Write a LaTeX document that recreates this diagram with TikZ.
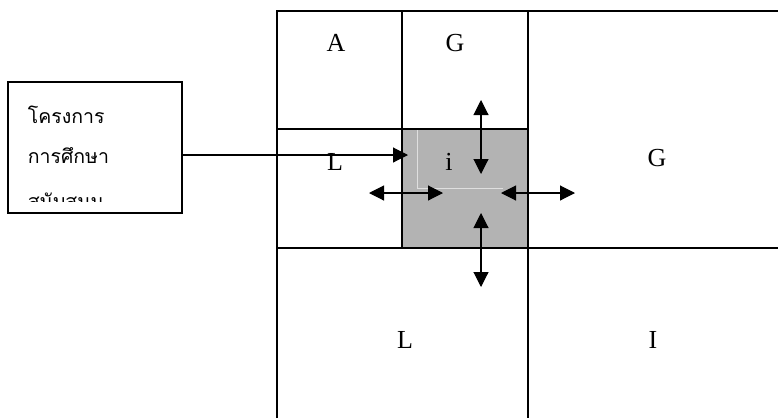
\documentclass[tikz,border=0pt]{standalone}
\usepackage{fontspec}
\setmainfont{Liberation Serif}
\newfontfamily\thaifont[Script=Thai]{Loma}
\usetikzlibrary{arrows.meta}
\definecolor{cellgray}{HTML}{B3B3B3}

\begin{document}
\begin{tikzpicture}[x=1pt,y=-1pt,line width=1.6pt,
  lbl/.style={font=\fontsize{26}{26}\selectfont},
  thl/.style={anchor=base west,inner sep=0pt,font=\thaifont\fontsize{19.5}{20}\selectfont},
  dbl/.style={line width=1.1pt,{Triangle[length=15pt,width=15pt]}-{Triangle[length=15pt,width=15pt]}},
  sgl/.style={line width=1.1pt,-{Triangle[length=15pt,width=15pt]}}]
\useasboundingbox (0,0) rectangle (778,418);
% shaded cell
\fill[cellgray] (402,129) rectangle (528,248);
\draw[line width=0.6pt,gray!25] (417,129) -- (417,188) -- (503,188);
% grid
\draw (277,418) -- (277,11) -- (778,11);
\draw (402,11) -- (402,248);
\draw (528,11) -- (528,418);
\draw (277,129) -- (528,129);
\draw (277,248) -- (778,248);
% cell labels
\node[lbl] (a)  at (336,43)  {A};
\node[lbl] (g1) at (455,43)  {G};
\node[lbl] (l1) at (335,162) {L};
\node[lbl] (i)  at (449,162) {i};
\node[lbl] (g2) at (657,158) {G};
\node[lbl] (l2) at (405,340) {L};
\node[lbl] (ii) at (653,340) {I};
% project box
\node[draw,minimum width=174,minimum height=131,anchor=north west] (proj) at (7,81) {};
\node[thl] (t1) at (27,123) {โครงการ};
\node[thl] (t2) at (27,163) {การศึกษา};
\begin{scope}
\clip (7,81) rectangle (181,201);
\node[thl] (t3) at (27,208) {สนับสนุน};
\end{scope}
% arrows
\coordinate (tip) at (408,155);
\draw[sgl] (proj.east |- tip) -- (tip);
\coordinate (n1) at (481,100);
\coordinate (n2) at (481,174);
\coordinate (s1) at (481,213);
\coordinate (s2) at (481,287);
\coordinate (w1) at (369,193);
\coordinate (w2) at (443,193);
\coordinate (e1) at (501,193);
\coordinate (e2) at (575,193);
\draw[dbl] (n1) -- (n2);
\draw[dbl] (s1) -- (s2);
\draw[dbl] (w1) -- (w2);
\draw[dbl] (e1) -- (e2);
\end{tikzpicture}
\end{document}
